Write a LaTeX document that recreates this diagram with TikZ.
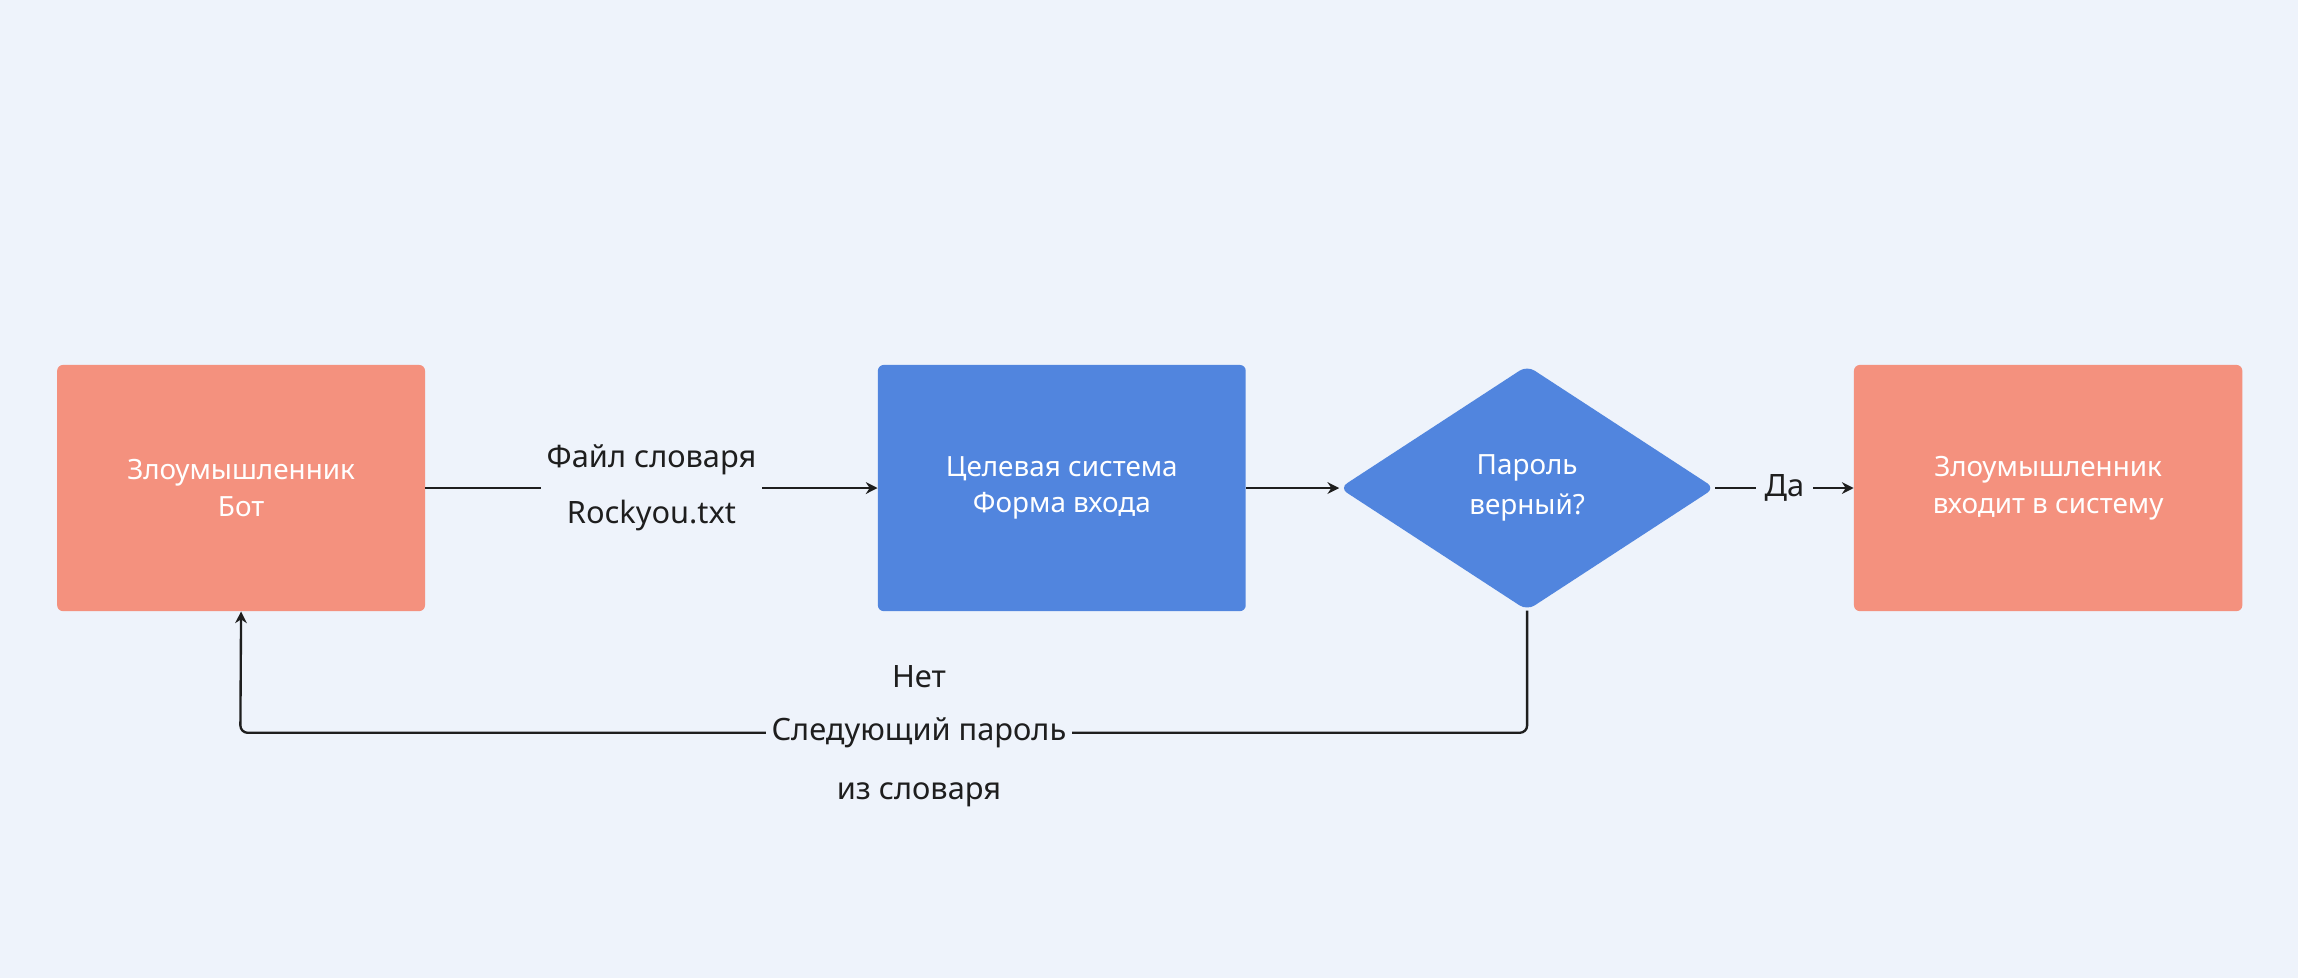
\documentclass[tikz,border=0pt]{standalone}
\usepackage{fontspec}
\setmainfont{Noto Sans}
\usetikzlibrary{shapes.geometric,arrows.meta}
\definecolor{bg}{HTML}{EEF3FB}
\definecolor{sal}{HTML}{F4917E}
\definecolor{blu}{HTML}{5185DE}
\definecolor{ink}{HTML}{1E1E1E}
\begin{document}
\begin{tikzpicture}[x=1pt,y=-1pt,
  box/.style={rounded corners=4pt,minimum width=251pt,minimum height=168pt,inner sep=0pt,text=white,align=center,font=\fontsize{19}{25}\selectfont},
  lab/.style={fill=bg,text=ink,align=center,inner sep=4pt,font=\fontsize{21}{38}\selectfont},
  con/.style={draw=ink,line width=1.6pt,-{Stealth[length=8pt,width=8pt]}}]
\fill[bg] (0,0) rectangle (1568,667);
\useasboundingbox (0,0) rectangle (1568,667);
\node[box,fill=sal] (a) at (164.5,333) {\textbf{Злоумышленник}\\Бот};
\node[box,fill=blu] (b) at (724.5,333) {\textbf{Целевая система}\\Форма входа};
\node[diamond,fill=blu,minimum width=256pt,minimum height=167pt,inner sep=0pt,rounded corners=6pt,aspect=1.53,text=white,align=center,font=\bfseries\fontsize{19}{27}\selectfont] (c) at (1042,333) {Пароль\\верный?};
\node[box,fill=sal,minimum width=265pt] (d) at (1397.5,333) {\textbf{Злоумышленник}\\\textbf{входит в систему}};
\coordinate (k1) at (1042,500);
\coordinate (k2) at (164,500);
\draw[con] (a) -- (b) node[lab,midway] {\textbf{Файл словаря}\\Rockyou.txt};
\draw[con] (b) -- (c);
\draw[con] (c) -- (d) node[lab,midway,inner sep=6pt] {\textbf{Да}};
\draw[con,rounded corners=5pt] (c.south) -- (k1) -- (k2) -- (a.south);
\node[lab] (n) at (627,500) {Следующий пароль};
\node[lab,fill=none] (n1) at (627,462) {\textbf{Нет}};
\node[lab,fill=none] (n2) at (627,542) {из словаря};
\end{tikzpicture}
\end{document}
